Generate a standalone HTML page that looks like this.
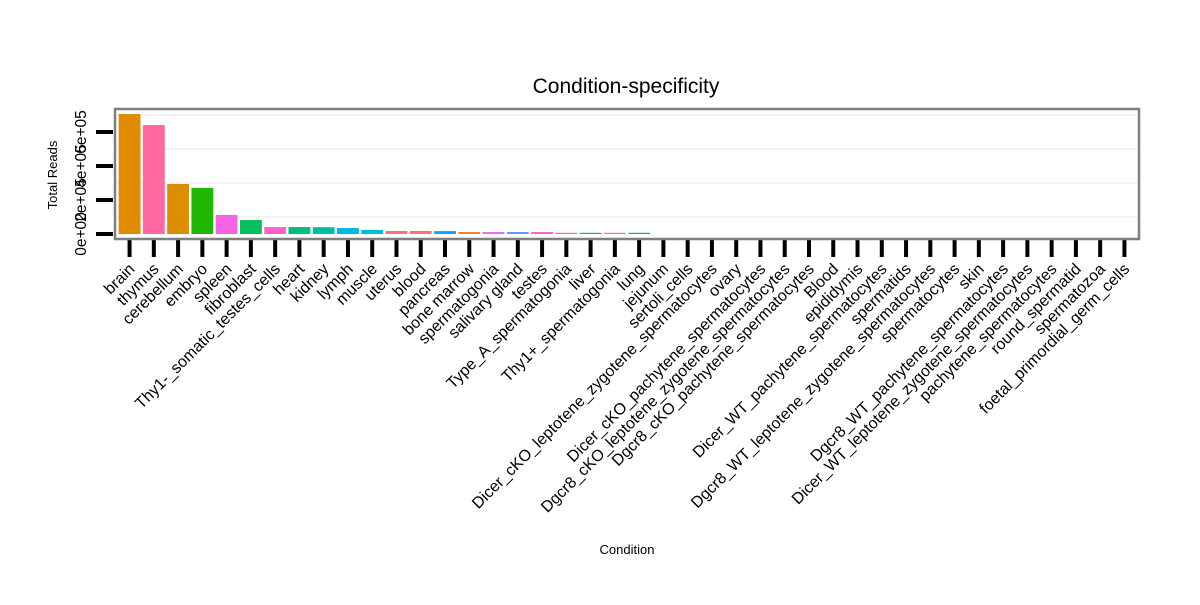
<!DOCTYPE html>
<html><head><meta charset="utf-8"><style>
body{margin:0;background:#fff}
svg text{font-family:"Liberation Sans",sans-serif}
</style></head><body>
<svg id="chart" width="1200" height="600" xmlns="http://www.w3.org/2000/svg">
<rect width="1200" height="600" fill="#fff"/>
<text x="626" y="93" font-size="21" text-anchor="middle" fill="#000">Condition-specificity</text>
<text transform="translate(57,175) rotate(-90)" font-size="13" text-anchor="middle">Total Reads</text>
<text x="627" y="554" font-size="13" text-anchor="middle">Condition</text>
<g id="grid"></g><g id="bars"></g><g id="axes"></g>
<rect x="115" y="109" width="1024" height="130" fill="none" stroke="#7f7f7f" stroke-width="2.5"/>
</svg>
<script>
const categories=["brain","thymus","cerebellum","embryo","spleen","fibroblast","Thy1-_somatic_testes_cells","heart","kidney","lymph","muscle","uterus","blood","pancreas","bone marrow","spermatogonia","salivary gland","testes","Type_A_spermatogonia","liver","Thy1+_spermatogonia","lung","jejunum","sertoli_cells","Dicer_cKO_leptotene_zygotene_spermatocytes","ovary","Dicer_cKO_pachytene_spermatocytes","Dgcr8_cKO_leptotene_zygotene_spermatocytes","Dgcr8_cKO_pachytene_spermatocytes","Blood","epididymis","Dicer_WT_pachytene_spermatocytes","spermatids","Dgcr8_WT_leptotene_zygotene_spermatocytes","spermatocytes","skin","Dgcr8_WT_pachytene_spermatocytes","Dicer_WT_leptotene_zygotene_spermatocytes","pachytene_spermatocytes","round_spermatid","spermatozoa","foetal_primordial_germ_cells"];
const values=[706000,641000,294000,271000,112000,82000,41000,41000,40000,35000,24000,18000,18000,17000,12000,12000,12000,12000,6000,6000,5000,5000,0,0,0,0,0,0,0,0,0,0,0,0,0,0,0,0,0,0,0,0];
const colors=["#E08B00","#FF68A1","#DB8E00","#1FB700","#F564E3","#00BF5C","#FF61C9","#00BF7D","#00BFA0","#00B8E5","#00BCD8","#F8766D","#F8766D","#00A9FF","#E6862A","#E76BF3","#619CFF","#FF61CC","#F0709A","#00B0B0","#F070A0","#00A8C0","#ccc","#ccc","#ccc","#ccc","#ccc","#ccc","#ccc","#ccc","#ccc","#ccc","#ccc","#ccc","#ccc","#ccc","#ccc","#ccc","#ccc","#ccc","#ccc","#ccc"];
const yTicks=[0,200000,400000,600000];
const yTickLabels=["0e+00","2e+05","4e+05","6e+05"];
const NS="http://www.w3.org/2000/svg";
const x0=115,x1=1139,yBase=234,pxPer=34/200000;
const n=categories.length, step=(x1-x0)/(n-1+1.2);
function xs(i){return x0+(0.6+i)*step;}
function ys(v){return yBase-v*pxPer;}
function mk(t,a,p){const e=document.createElementNS(NS,t);for(const k in a)e.setAttribute(k,a[k]);p.appendChild(e);return e;}
const grid=document.getElementById('grid'),bars=document.getElementById('bars'),axes=document.getElementById('axes');
for(let i=0;i<yTicks.length;i++){
  const gm=mk('line',{x1:x0,x2:x1,y1:ys(yTicks[i])-17,y2:ys(yTicks[i])-17,stroke:'#f4f4f4','stroke-width':2},grid);
  
  
  const t=mk('line',{x1:96,x2:113,y1:ys(yTicks[i]),y2:ys(yTicks[i]),stroke:'#000','stroke-width':4},axes);
  
  
  const l=mk('text',{transform:`translate(${86},${ys(yTicks[i])}) rotate(-90)`,'font-size':15.5,'text-anchor':'middle'},axes);
  l.textContent=yTickLabels[i];
  
  
}
const bw=step*0.9;
for(let i=0;i<n;i++){
  const v=values[i];
  if(v>0){
    const h=Math.max(yBase-ys(v),1.2);
    const r=mk('rect',{x:xs(i)-bw/2,y:yBase-h,width:bw,height:h,fill:colors[i]},bars);
    
    
  }
  const t=mk('line',{x1:xs(i),x2:xs(i),y1:240,y2:257,stroke:'#000','stroke-width':4},axes);
  
  
  const l=mk('text',{transform:`translate(${xs(i)+6},${270}) rotate(-45)`,'font-size':16,'text-anchor':'end'},axes);
  l.textContent=categories[i];
  
  
}
</script>
</body></html>
